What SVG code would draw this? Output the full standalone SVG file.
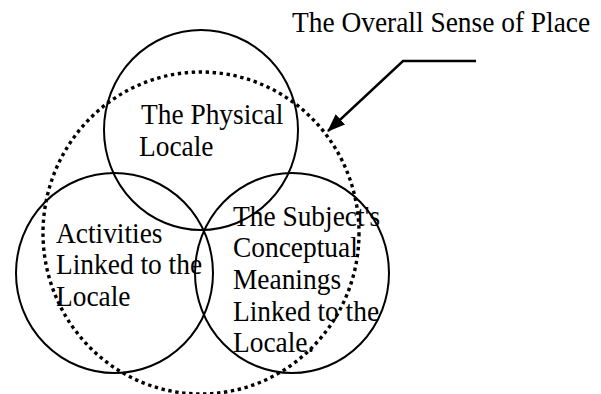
<svg xmlns="http://www.w3.org/2000/svg" width="601" height="394" viewBox="0 0 601 394">
<style>
.c{fill:none;stroke:#000;stroke-width:2}
.d{fill:none;stroke:#000;stroke-width:3.4;stroke-dasharray:3.4 3.6}
.t{font-family:"Liberation Serif","Times New Roman",serif;font-size:29px;fill:#000}
.l{fill:none;stroke:#000;stroke-width:2.4}
</style>
<defs>
<marker id="ah" markerWidth="18" markerHeight="14" refX="17" refY="7" orient="auto" markerUnits="userSpaceOnUse">
<path d="M0,0 L18,7 L0,14 Z" fill="#000"/>
</marker>
</defs>
<rect width="601" height="394" fill="#fff"/>
<g id="overall-sense">
<ellipse class="d" cx="201" cy="233" rx="158" ry="161"/>
<text class="t" transform="translate(292,32) scale(0.945,1)">The Overall Sense of Place</text>
</g>
<g id="physical-locale">
<ellipse class="c" cx="201" cy="130" rx="97" ry="100"/>
<text class="t" transform="translate(141,124) scale(0.945,1)">The Physical</text>
<text class="t" transform="translate(139,156) scale(0.945,1)">Locale</text>
</g>
<g id="activities">
<ellipse class="c" cx="114.5" cy="273" rx="98.5" ry="100"/>
<text class="t" transform="translate(56,243) scale(0.945,1)">Activities</text>
<text class="t" transform="translate(56,274) scale(0.945,1)">Linked to the</text>
<text class="t" transform="translate(56,306) scale(0.945,1)">Locale</text>
</g>
<g id="meanings">
<ellipse class="c" cx="292" cy="273" rx="97" ry="100"/>
<text class="t" transform="translate(233,226) scale(0.945,1)">The Subject's</text>
<text class="t" transform="translate(233,257) scale(0.945,1)">Conceptual</text>
<text class="t" transform="translate(233,289) scale(0.945,1)">Meanings</text>
<text class="t" transform="translate(233,321) scale(0.945,1)">Linked to the</text>
<text class="t" transform="translate(233,352) scale(0.945,1)">Locale.</text>
</g>
<g id="connectors">
<polyline class="l" points="476,61 403,61 328,131" marker-end="url(#ah)"/>
</g>
</svg>
